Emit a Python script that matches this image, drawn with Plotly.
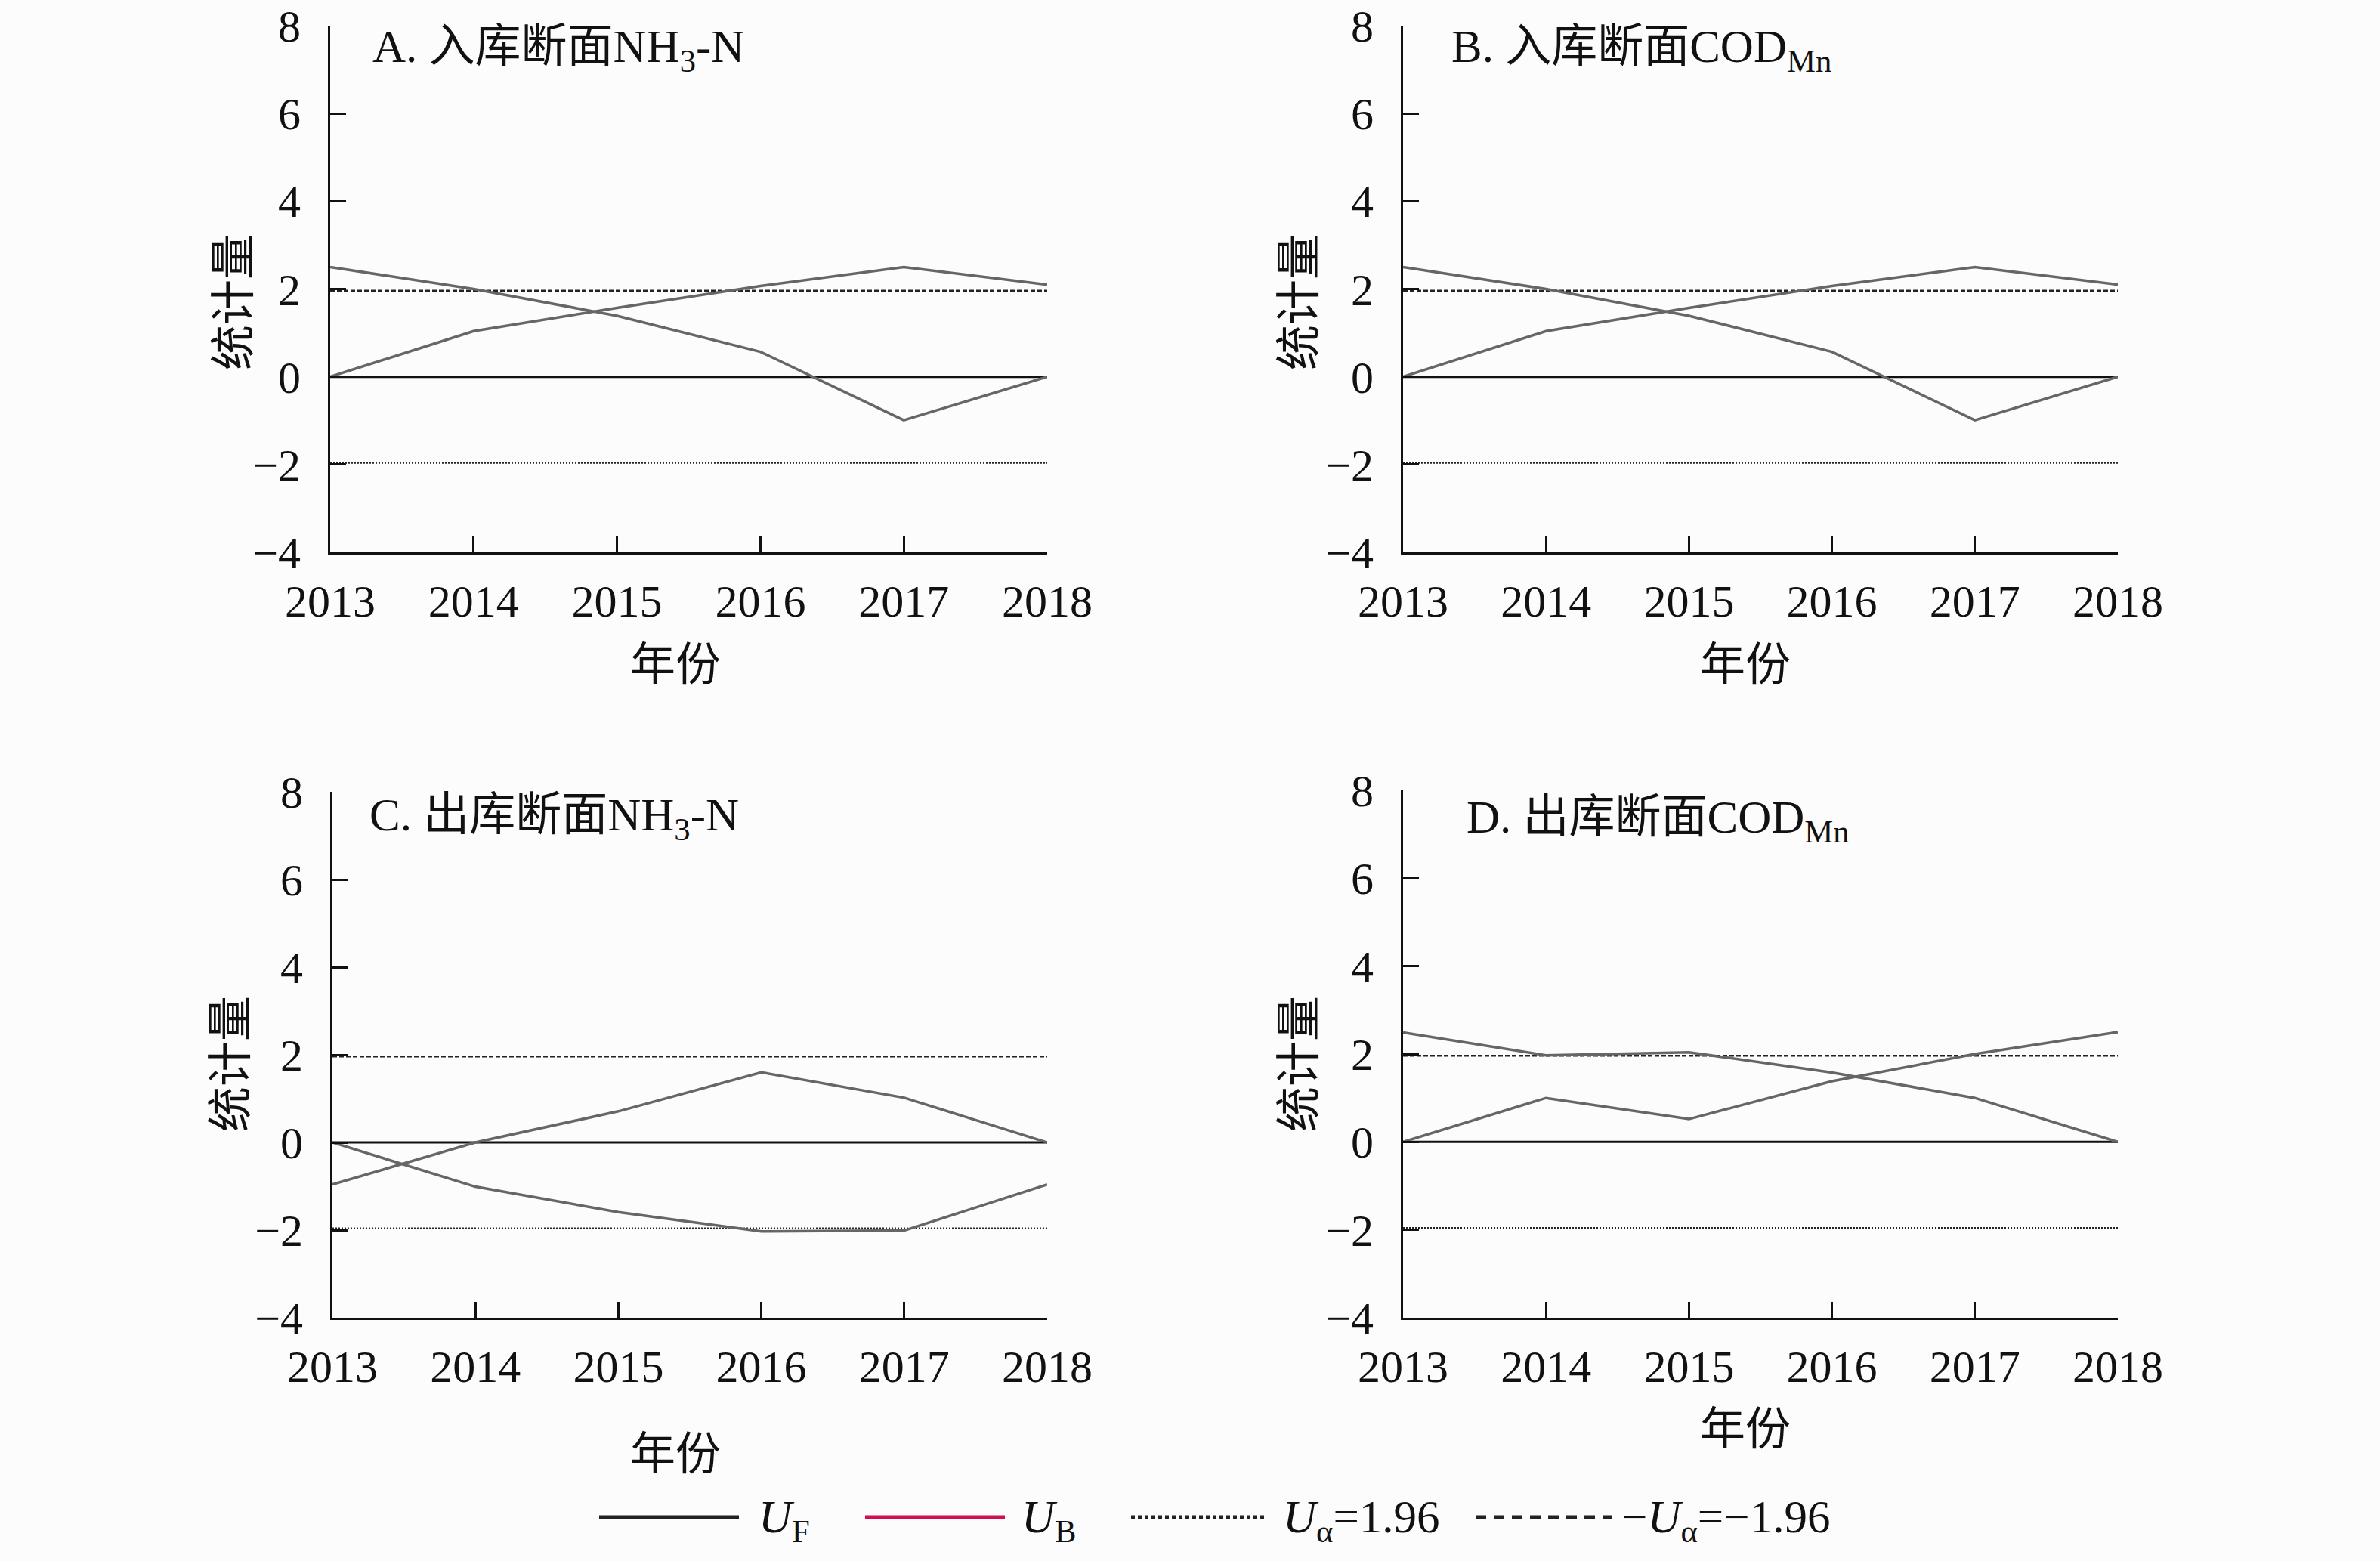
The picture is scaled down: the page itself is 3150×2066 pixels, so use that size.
import plotly.graph_objects as go

# ---------------- data ----------------
years = [2013, 2014, 2015, 2016, 2017, 2018]
year_labels = ["2013", "2014", "2015", "2016", "2017", "2018"]

# panel A: 入库断面 NH3-N
a_uf = [0.0, 1.04, 1.57, 2.07, 2.5, 2.1]
a_ub = [2.5, 2.0, 1.39, 0.57, -0.99, 0.0]
# panel B: 入库断面 CODMn
b_uf = [0.0, 1.04, 1.57, 2.07, 2.5, 2.1]
b_ub = [2.5, 2.0, 1.39, 0.57, -0.99, 0.0]
# panel C: 出库断面 NH3-N
c_uf = [0.0, -1.01, -1.59, -2.03, -2.01, -0.96]
c_ub = [-0.96, 0.0, 0.71, 1.6, 1.02, 0.0]
# panel D: 出库断面 CODMn
d_uf = [0.0, 1.0, 0.52, 1.38, 2.0, 2.5]
d_ub = [2.49, 1.97, 2.04, 1.58, 1.0, 0.0]

baseline = [0, 0]
u_alpha = 1.96

panel_titles = ["A. 入库断面NH<sub>3</sub>-N", "B. 入库断面COD<sub>Mn</sub>",
                "C. 出库断面NH<sub>3</sub>-N", "D. 出库断面COD<sub>Mn</sub>"]
y_title = "统计量"
x_title = "年份"
y_ticks = [-4, -2, 0, 2, 4, 6, 8]

# ---------------- layout helpers ----------------
W, H = 3150, 2066
FONT = "Liberation Serif, Noto Sans CJK SC, serif"
def px(x):
    return x / W
def py(y):
    return 1 - y / H

panels = [
    dict(uf=a_uf, ub=a_ub, x=(437, 1386), y=(34, 731), title=(491, 66),
         ytitle=(310, 400), xtitle=(894, 880)),
    dict(uf=b_uf, ub=b_ub, x=(1857, 2803), y=(34, 731), title=(1919, 66),
         ytitle=(1720, 400), xtitle=(2310, 880)),
    dict(uf=c_uf, ub=c_ub, x=(440, 1386), y=(1048, 1744), title=(487, 1083),
         ytitle=(306, 1408), xtitle=(894, 1925)),
    dict(uf=d_uf, ub=d_ub, x=(1857, 2803), y=(1046, 1744), title=(1939, 1086),
         ytitle=(1720, 1408), xtitle=(2310, 1892)),
]

fig = go.Figure()
annotations = []
shapes = []
curve_col = "#666666"

for i, p in enumerate(panels):
    n = i + 1
    xa = "x" if n == 1 else f"x{n}"
    ya = "y" if n == 1 else f"y{n}"
    common = dict(xaxis=xa, yaxis=ya, mode="lines", showlegend=False,
                  cliponaxis=False, hoverinfo="skip")
    fig.add_trace(go.Scatter(x=[years[0], years[-1]], y=[u_alpha, u_alpha],
                             line=dict(color="#222", width=2.5, dash="6px,3px"), **common))
    fig.add_trace(go.Scatter(x=[years[0], years[-1]], y=[-u_alpha, -u_alpha],
                             line=dict(color="#222", width=2.5, dash="2px,2px"), **common))
    fig.add_trace(go.Scatter(x=[years[0], years[-1]], y=baseline,
                             line=dict(color="#111", width=3), **common))
    fig.add_trace(go.Scatter(x=years, y=p["uf"], line=dict(color=curve_col, width=3.5), **common))
    fig.add_trace(go.Scatter(x=years, y=p["ub"], line=dict(color=curve_col, width=3.5), **common))

    axis_common = dict(showline=True, linecolor="#111", linewidth=3, ticks="inside",
                       ticklen=21, tickwidth=3, tickcolor="#111", showgrid=False,
                       zeroline=False, automargin=False,
                       tickfont=dict(family=FONT, size=60, color="#111"))
    fig.layout[f"xaxis{'' if n == 1 else n}"] = dict(
        domain=[px(p["x"][0]), px(p["x"][1])], range=[2013, 2018], anchor=ya,
        tickvals=years, ticktext=year_labels, ticklabelstandoff=10, **axis_common)
    fig.layout[f"yaxis{'' if n == 1 else n}"] = dict(
        domain=[py(p["y"][1]), py(p["y"][0])], range=[-4, 8], anchor=xa,
        tickvals=y_ticks, ticklabelstandoff=24, **axis_common)

    annotations.append(dict(x=px(p["title"][0]), y=py(p["title"][1]), xref="paper", yref="paper",
                            text=panel_titles[i], showarrow=False, xanchor="left", yanchor="middle",
                            font=dict(family=FONT, size=61, color="#111")))
    annotations.append(dict(x=px(p["ytitle"][0]), y=py(p["ytitle"][1]), xref="paper", yref="paper",
                            text=y_title, showarrow=False, textangle=-90, xanchor="center",
                            yanchor="middle", font=dict(family=FONT, size=60, color="#111")))
    annotations.append(dict(x=px(p["xtitle"][0]), y=py(p["xtitle"][1]), xref="paper", yref="paper",
                            text=x_title, showarrow=False, xanchor="center", yanchor="middle",
                            font=dict(family=FONT, size=60, color="#111")))

# ---------------- custom legend ----------------
leg_y = 2008
legend_items = [
    ((793, 978), dict(color="#222", width=5, dash="solid"), 1002, "<i>U</i><sub>F</sub>"),
    ((1145, 1330), dict(color="#d0104c", width=5, dash="solid"), 1350, "<i>U</i><sub>B</sub>"),
    ((1497, 1677), dict(color="#222", width=5, dash="5px,4px"), 1696, "<i>U</i><sub>α</sub>=1.96"),
    ((1953, 2134), dict(color="#222", width=5, dash="14px,10px"), 2144, "−<i>U</i><sub>α</sub>=−1.96"),
]
for (x0, x1), line, tx, txt in legend_items:
    shapes.append(dict(type="line", xref="paper", yref="paper", x0=px(x0), x1=px(x1),
                       y0=py(leg_y), y1=py(leg_y), line=line))
    annotations.append(dict(x=px(tx), y=py(leg_y + 4), xref="paper", yref="paper", text=txt,
                            showarrow=False, xanchor="left", yanchor="middle",
                            font=dict(family=FONT, size=61, color="#111")))

fig.update_layout(width=W, height=H, margin=dict(l=0, r=0, t=0, b=0, autoexpand=False),
                  paper_bgcolor="#fcfcfc", plot_bgcolor="rgba(0,0,0,0)",
                  annotations=annotations, shapes=shapes, showlegend=False)

fig.write_html("out.html", config={"displayModeBar": False},
               post_script="document.body.style.margin='0';")
